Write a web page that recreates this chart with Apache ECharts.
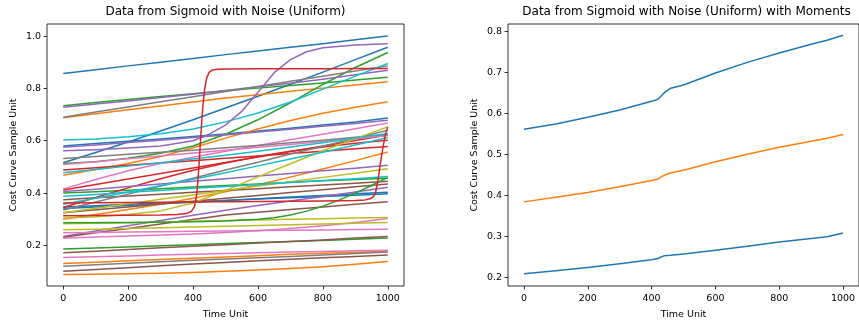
<!DOCTYPE html>
<html>
<head>
<meta charset="utf-8">
<script src="https://cdn.jsdelivr.net/npm/echarts@6/dist/echarts.min.js"></script>
<style>
  html, body { margin: 0; padding: 0; background: #ffffff; }
  #chart { width: 859px; height: 325px; }
</style>
</head>
<body>
<div id="chart"></div>
<script>
// Shared time samples for the noisy sigmoid curves (left panel)
const timeSteps = [0, 100, 200, 300, 400, 500, 600, 700, 800, 900, 1000];

// Curves grouped by line colour (tab10 cycle)
const blueCurves = [
  [0.857, 0.871, 0.886, 0.900, 0.914, 0.929, 0.943, 0.957, 0.971, 0.986, 1.000],
  [0.516, 0.555, 0.595, 0.637, 0.680, 0.725, 0.770, 0.816, 0.862, 0.910, 0.957],
  [0.580, 0.589, 0.598, 0.607, 0.616, 0.626, 0.637, 0.648, 0.660, 0.672, 0.687],
  [0.347, 0.352, 0.357, 0.362, 0.367, 0.372, 0.377, 0.382, 0.387, 0.392, 0.397],
  [0.341, 0.347, 0.353, 0.359, 0.365, 0.372, 0.378, 0.385, 0.391, 0.397, 0.403]
];
const orangeCurves = [
  [0.688, 0.703, 0.718, 0.733, 0.748, 0.763, 0.776, 0.789, 0.801, 0.813, 0.825],
  [0.468, 0.490, 0.513, 0.540, 0.573, 0.610, 0.645, 0.677, 0.705, 0.728, 0.749],
  [0.300, 0.318, 0.337, 0.357, 0.380, 0.405, 0.432, 0.461, 0.492, 0.524, 0.557],
  [0.131, 0.136, 0.141, 0.146, 0.151, 0.156, 0.161, 0.166, 0.170, 0.174, 0.178],
  [0.089, 0.090, 0.092, 0.094, 0.097, 0.101, 0.106, 0.112, 0.119, 0.128, 0.139]
];
const greenCurves = [
  [0.734, 0.746, 0.758, 0.769, 0.780, 0.791, 0.801, 0.811, 0.821, 0.832, 0.843],
  [0.513, 0.520, 0.533, 0.552, 0.580, 0.625, 0.680, 0.745, 0.815, 0.880, 0.937],
  [0.400, 0.405, 0.411, 0.417, 0.423, 0.429, 0.435, 0.441, 0.447, 0.452, 0.457],
  [0.186, 0.190, 0.194, 0.199, 0.203, 0.207, 0.211, 0.215, 0.219, 0.224, 0.228]
];
// Late-rising green curve, sampled more densely around its bend
const greenLateTimes = [0, 200, 400, 500, 600, 650, 700, 750, 800, 850, 900, 950, 1000];
const greenLateValues = [0.287, 0.288, 0.290, 0.293, 0.300, 0.306, 0.316, 0.331, 0.350, 0.373, 0.400, 0.429, 0.460];
const redCurves = [
  [0.488, 0.497, 0.506, 0.515, 0.524, 0.533, 0.542, 0.551, 0.560, 0.569, 0.578],
  [0.412, 0.433, 0.454, 0.475, 0.496, 0.517, 0.538, 0.559, 0.580, 0.601, 0.622],
  [0.345, 0.383, 0.420, 0.455, 0.487, 0.515, 0.540, 0.560, 0.576, 0.590, 0.602]
];
// Two red curves with very steep transitions need denser sampling
const redStepTimesA = [0, 100, 200, 300, 350, 380, 395, 405, 412, 418, 424, 430, 436, 442, 450, 460, 475, 500, 600, 700, 800, 900, 1000];
const redStepValuesA = [0.313, 0.314, 0.315, 0.316, 0.318, 0.322, 0.330, 0.350, 0.400, 0.500, 0.620, 0.730, 0.800, 0.840, 0.862, 0.870, 0.873, 0.874, 0.875, 0.875, 0.875, 0.876, 0.876];
const redStepTimesB = [0, 100, 200, 300, 400, 500, 600, 700, 800, 900, 930, 945, 955, 962, 970, 978, 986, 993, 1000];
const redStepValuesB = [0.362, 0.363, 0.364, 0.365, 0.366, 0.367, 0.368, 0.369, 0.370, 0.372, 0.374, 0.378, 0.385, 0.400, 0.450, 0.520, 0.580, 0.625, 0.652];
const purpleCurves = [
  [0.728, 0.740, 0.752, 0.765, 0.778, 0.792, 0.806, 0.820, 0.835, 0.852, 0.869],
  [0.575, 0.584, 0.593, 0.602, 0.612, 0.622, 0.633, 0.644, 0.655, 0.666, 0.678],
  [0.406, 0.415, 0.425, 0.435, 0.445, 0.455, 0.465, 0.475, 0.485, 0.495, 0.506],
  [0.234, 0.255, 0.275, 0.295, 0.315, 0.334, 0.353, 0.370, 0.387, 0.404, 0.422]
];
// Purple curve with a pronounced sigmoid step, sampled densely
const purpleStepTimes = [0, 100, 200, 300, 400, 450, 500, 550, 600, 650, 700, 750, 800, 900, 1000];
const purpleStepValues = [0.562, 0.566, 0.572, 0.580, 0.600, 0.625, 0.660, 0.712, 0.785, 0.860, 0.910, 0.940, 0.955, 0.966, 0.971];
const brownCurves = [
  [0.375, 0.382, 0.389, 0.396, 0.403, 0.410, 0.417, 0.424, 0.431, 0.438, 0.445],
  [0.231, 0.248, 0.265, 0.282, 0.299, 0.316, 0.327, 0.337, 0.347, 0.357, 0.367],
  [0.172, 0.178, 0.184, 0.191, 0.197, 0.203, 0.209, 0.215, 0.221, 0.228, 0.234],
  [0.101, 0.108, 0.115, 0.122, 0.129, 0.135, 0.141, 0.147, 0.153, 0.158, 0.163],
  [0.325, 0.336, 0.347, 0.358, 0.369, 0.380, 0.391, 0.402, 0.413, 0.424, 0.435]
];
const pinkCurves = [
  [0.509, 0.520, 0.531, 0.542, 0.553, 0.564, 0.575, 0.586, 0.597, 0.608, 0.620],
  [0.416, 0.452, 0.485, 0.513, 0.537, 0.560, 0.582, 0.604, 0.625, 0.646, 0.668],
  [0.248, 0.249, 0.251, 0.252, 0.254, 0.255, 0.257, 0.258, 0.259, 0.261, 0.262],
  [0.227, 0.232, 0.236, 0.240, 0.244, 0.249, 0.256, 0.265, 0.275, 0.288, 0.303],
  [0.154, 0.157, 0.160, 0.163, 0.166, 0.169, 0.172, 0.175, 0.177, 0.180, 0.182]
];
const grayCurves = [
  [0.690, 0.710, 0.729, 0.749, 0.768, 0.788, 0.807, 0.827, 0.846, 0.866, 0.886],
  [0.532, 0.540, 0.548, 0.556, 0.564, 0.573, 0.582, 0.592, 0.602, 0.613, 0.625],
  [0.335, 0.366, 0.396, 0.427, 0.457, 0.488, 0.518, 0.549, 0.579, 0.610, 0.640],
  [0.120, 0.126, 0.132, 0.138, 0.143, 0.148, 0.153, 0.158, 0.163, 0.169, 0.175]
];
const oliveCurves = [
  [0.305, 0.310, 0.318, 0.332, 0.362, 0.410, 0.462, 0.512, 0.562, 0.608, 0.653],
  [0.325, 0.342, 0.359, 0.376, 0.393, 0.410, 0.427, 0.443, 0.460, 0.476, 0.493],
  [0.283, 0.285, 0.287, 0.289, 0.292, 0.295, 0.297, 0.300, 0.302, 0.305, 0.307],
  [0.260, 0.262, 0.265, 0.268, 0.270, 0.273, 0.276, 0.279, 0.282, 0.285, 0.288]
];
const cyanCurves = [
  [0.603, 0.607, 0.615, 0.627, 0.645, 0.672, 0.706, 0.748, 0.797, 0.847, 0.895],
  [0.478, 0.490, 0.503, 0.516, 0.530, 0.545, 0.560, 0.576, 0.592, 0.610, 0.628],
  [0.388, 0.395, 0.403, 0.410, 0.418, 0.425, 0.433, 0.440, 0.448, 0.455, 0.463],
  [0.357, 0.380, 0.404, 0.428, 0.453, 0.478, 0.504, 0.530, 0.556, 0.584, 0.612]
];

// Moments of the curves (right panel)
const momentTimes = [0, 100, 200, 300, 400, 420, 440, 460, 500, 600, 700, 800, 900, 950, 1000];
const upperBand = [0.561, 0.574, 0.590, 0.608, 0.629, 0.634, 0.650, 0.661, 0.669, 0.698, 0.724, 0.747, 0.768, 0.778, 0.790];
const meanLine  = [0.384, 0.395, 0.407, 0.421, 0.436, 0.440, 0.449, 0.455, 0.461, 0.482, 0.500, 0.517, 0.532, 0.539, 0.548];
const lowerBand = [0.209, 0.216, 0.224, 0.233, 0.243, 0.246, 0.253, 0.254, 0.257, 0.266, 0.276, 0.286, 0.295, 0.299, 0.308];

// Tick labels
const xTicks = [0, 200, 400, 600, 800, 1000];
const leftYTicks = [0.2, 0.4, 0.6, 0.8, 1.0];
const rightYTicks = [0.2, 0.3, 0.4, 0.5, 0.6, 0.7, 0.8];

const palette = {
  blue: '#1f77b4', orange: '#ff7f0e', green: '#2ca02c', red: '#d62728', purple: '#9467bd',
  brown: '#8c564b', pink: '#e377c2', gray: '#7f7f7f', olive: '#bcbd22', cyan: '#17becf'
};

const FONT = 'DejaVu Sans';
const TICK_SIZE = 9.5;

function pairUp(ts, vs) {
  return ts.map((t, i) => [t, vs[i]]);
}

function lineSeries(ts, vs, color, axisIndex) {
  return {
    type: 'line',
    xAxisIndex: axisIndex,
    yAxisIndex: axisIndex,
    data: pairUp(ts, vs),
    showSymbol: false,
    smooth: false,
    silent: true,
    lineStyle: { color: color, width: 1.5, join: 'round' },
    itemStyle: { color: color }
  };
}

const series = [];
const groups = [
  ['blue', blueCurves], ['orange', orangeCurves], ['green', greenCurves], ['red', redCurves],
  ['purple', purpleCurves], ['brown', brownCurves], ['pink', pinkCurves], ['gray', grayCurves],
  ['olive', oliveCurves], ['cyan', cyanCurves]
];
groups.forEach(([name, curves]) => {
  curves.forEach(vs => series.push(lineSeries(timeSteps, vs, palette[name], 0)));
});
series.push(lineSeries(greenLateTimes, greenLateValues, palette.green, 0));
series.push(lineSeries(purpleStepTimes, purpleStepValues, palette.purple, 0));
series.push(lineSeries(redStepTimesA, redStepValuesA, palette.red, 0));
series.push(lineSeries(redStepTimesB, redStepValuesB, palette.red, 0));

series.push(lineSeries(momentTimes, upperBand, palette.blue, 1));
series.push(lineSeries(momentTimes, meanLine, palette.orange, 1));
series.push(lineSeries(momentTimes, lowerBand, palette.blue, 1));

function xAxis(gridIndex) {
  return {
    type: 'value', gridIndex: gridIndex, min: -50, max: 1050,
    name: 'Time Unit', nameLocation: 'middle', nameGap: 24,
    nameTextStyle: { fontFamily: FONT, fontSize: TICK_SIZE, color: '#000' },
    axisLine: { show: false, onZero: false },
    axisTick: { show: true, length: 3.5, customValues: xTicks, lineStyle: { color: '#000', width: 0.8 } },
    axisLabel: {
      customValues: xTicks, fontFamily: FONT, fontSize: TICK_SIZE, color: '#000', margin: 8,
      formatter: v => String(v)
    },
    splitLine: { show: false }
  };
}

function yAxis(gridIndex, min, max, ticks) {
  return {
    type: 'value', gridIndex: gridIndex, min: min, max: max,
    name: 'Cost Curve Sample Unit', nameLocation: 'middle', nameGap: 28,
    nameTextStyle: { fontFamily: FONT, fontSize: TICK_SIZE, color: '#000' },
    axisLine: { show: false, onZero: false },
    axisTick: { show: true, length: 3.5, customValues: ticks, lineStyle: { color: '#000', width: 0.8 } },
    axisLabel: {
      customValues: ticks, fontFamily: FONT, fontSize: TICK_SIZE, color: '#000', margin: 6,
      formatter: v => Number(v).toFixed(1)
    },
    splitLine: { show: false }
  };
}

const chart = echarts.init(document.getElementById('chart'), null, { renderer: 'canvas' });
chart.setOption({
  animation: false,
  backgroundColor: '#ffffff',
  title: [
    {
      text: 'Data from Sigmoid with Noise (Uniform)',
      left: 225.5, top: 6, textAlign: 'center', padding: 0,
      textStyle: { fontFamily: FONT, fontSize: 12, fontWeight: 'normal', color: '#000' }
    },
    {
      text: 'Data from Sigmoid with Noise (Uniform) with Moments',
      left: 686.5, top: 6, textAlign: 'center', padding: 0,
      textStyle: { fontFamily: FONT, fontSize: 12, fontWeight: 'normal', color: '#000' }
    }
  ],
  grid: [
    { left: 47, top: 24, width: 357, height: 266, show: true, borderColor: '#000', borderWidth: 0.8, backgroundColor: 'transparent', containLabel: false },
    { left: 508, top: 24, width: 357, height: 267, show: true, borderColor: '#000', borderWidth: 0.8, backgroundColor: 'transparent', containLabel: false }
  ],
  xAxis: [xAxis(0), xAxis(1)],
  yAxis: [yAxis(0, 0.045, 1.046, leftYTicks), yAxis(1, 0.179, 0.8175, rightYTicks)],
  series: series
});
</script>
</body>
</html>
